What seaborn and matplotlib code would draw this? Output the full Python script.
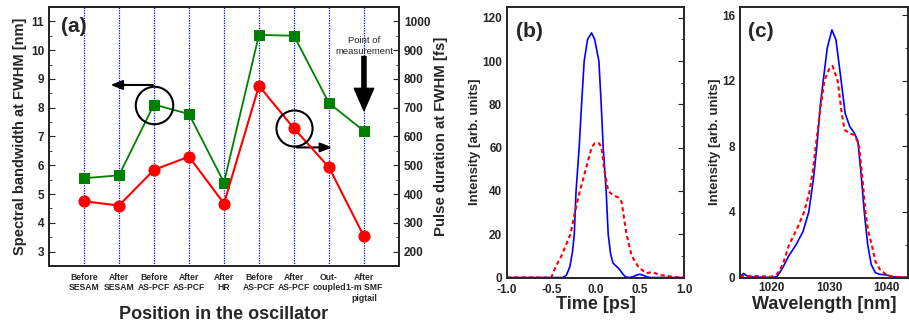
import numpy as np
import pandas as pd
import seaborn as sns
import matplotlib.pyplot as plt
from matplotlib.ticker import MultipleLocator

# Panel (a) data
positions = ["Before\nSESAM", "After\nSESAM", "Before\nAS-PCF", "After\nAS-PCF", "After\nHR",
             "Before\nAS-PCF", "After\nAS-PCF", "Out-\ncoupled", "After\n1-m SMF\npigtail"]
bandwidth_nm = [5.55, 5.65, 8.11, 7.78, 5.40, 10.53, 10.50, 8.16, 7.19]
duration_fs = [375, 360, 484, 530, 367, 776, 628, 493, 253]

# Panel (b) data: pulse intensity vs time
time_blue = [-1.0, -0.6, -0.37, -0.33, -0.29, -0.26, -0.24, -0.22, -0.185, -0.158, -0.128, -0.09,
             -0.045, -0.01, 0.038, 0.064, 0.087, 0.12, 0.143, 0.17, 0.197, 0.24, 0.275, 0.31,
             0.34, 0.38, 0.43, 0.47, 0.50, 0.54, 0.58, 0.62, 1.0]
int_blue = [0, 0, 0, 1, 5, 12, 20, 40, 60, 80, 100, 110,
            113, 110, 100, 80, 60, 40, 20, 11, 6.7, 5, 3.6, 1.5,
            0.3, 0, 0.5, 1.2, 1.5, 1.0, 0.3, 0, 0]
time_red = [-1.0, -0.5, -0.45, -0.385, -0.283, -0.234, -0.177, -0.11, -0.045, -0.01, 0.04,
            0.068, 0.098, 0.143, 0.2, 0.257, 0.294, 0.35, 0.408, 0.483, 0.54, 0.577, 0.634,
            0.672, 0.728, 0.785, 0.84, 0.955, 1.0]
int_red = [0, 0, 5, 10, 20, 30, 40, 50, 60, 62, 62,
           60, 50, 40, 38, 37, 35, 20, 10, 5, 3, 2, 2.5,
           2, 1, 1, 0.5, 0, 0]

# Panel (c) data: spectra
wl_blue = [1014.6, 1015.2, 1016, 1018, 1020, 1021, 1022, 1023, 1024.3, 1025.5, 1026.5, 1027.3,
           1027.9, 1028.5, 1029.0, 1029.7, 1030.5, 1031.2, 1032.1, 1032.8, 1033.6, 1034.4,
           1035.0, 1035.5, 1036.1, 1036.7, 1037.3, 1038.0, 1038.7, 1040, 1041, 1043.7]
spec_blue = [0.05, 0.25, 0.05, 0.02, 0.0, 0.05, 0.6, 1.3, 2.0, 2.8, 4.0, 6.0,
             8.0, 10.5, 12.0, 14.0, 15.1, 14.5, 12.0, 10.0, 9.2, 8.8,
             8.3, 6.5, 4.0, 2.0, 0.8, 0.3, 0.2, 0.15, 0.05, 0.0]
wl_red = [1014.6, 1017, 1020, 1021, 1022, 1023.1, 1024.5, 1025.7, 1026.6, 1027.2, 1027.7,
          1028.5, 1029.2, 1030.0, 1030.6, 1031.5, 1032.2, 1032.7, 1033.5, 1034.3, 1034.8,
          1035.2, 1035.8, 1036.3, 1036.8, 1037.4, 1038.0, 1038.8, 1039.8, 1041, 1043.7]
spec_red = [0.1, 0.1, 0.05, 0.2, 0.8, 2.0, 3.0, 4.0, 5.2, 6.5, 8.0,
            10.3, 12.0, 12.7, 12.9, 12.0, 10.0, 9.0, 8.8, 8.7, 8.4,
            8.0, 6.0, 4.0, 2.8, 2.0, 1.0, 0.5, 0.2, 0.05, 0]

sns.set_style("white")
plt.rcParams["font.family"] = ["Liberation Sans", "DejaVu Sans"]
plt.rcParams["font.weight"] = "bold"
plt.rcParams["axes.linewidth"] = 1.4

GREEN = "#008000"
RED = "#ff0000"
BLUE = "#0000ff"

fig = plt.figure(figsize=(9.09, 3.21), dpi=100)

# (a) bandwidth and pulse duration
ax = fig.add_axes([0.0539, 0.1713, 0.385, 0.807])
x = np.arange(1, len(positions) + 1)
for xi in x:
    ax.axvline(xi, color=BLUE, ls=(0, (1, 1)), lw=0.9, zorder=0)

sns.lineplot(x=x, y=bandwidth_nm, ax=ax, color=GREEN, lw=1.3, marker="s",
             markersize=7, markeredgecolor=GREEN, zorder=3)
ax.set_xlim(0, 10)
ax.set_ylim(2.5, 11.5)
ax.yaxis.set_major_locator(MultipleLocator(1))
ax.yaxis.set_minor_locator(MultipleLocator(0.5))
ax.set_xticks(x)
ax.set_xticklabels(positions, fontsize=6.2, fontweight="bold", linespacing=1.2)
ax.tick_params(axis="x", length=0, pad=5)
ax.tick_params(axis="y", which="both", direction="in", labelsize=8.5)
ax.tick_params(axis="y", which="major", length=4)
ax.tick_params(axis="y", which="minor", length=2)
ax.set_xlabel("Position in the oscillator", fontsize=13, fontweight="bold", labelpad=2)
ax.set_ylabel("Spectral bandwidth at FWHM [nm]", fontsize=10.5, fontweight="bold", labelpad=3)

ax2 = ax.twinx()
sns.lineplot(x=x, y=duration_fs, ax=ax2, color=RED, lw=1.5, marker="o",
             markersize=8, markeredgecolor=RED, zorder=3)
ax2.set_ylim(150, 1050)
ax2.yaxis.set_major_locator(MultipleLocator(100))
ax2.yaxis.set_minor_locator(MultipleLocator(50))
ax2.tick_params(axis="y", which="both", direction="in", labelsize=8.5)
ax2.tick_params(axis="y", which="major", length=4)
ax2.tick_params(axis="y", which="minor", length=2)
ax2.set_ylabel("Pulse duration at FWHM [fs]", fontsize=10.8, fontweight="bold", labelpad=3)

ax.text(0.035, 0.96, "(a)", transform=ax.transAxes, fontsize=15, fontweight="bold",
        va="top", ha="left")

# circles and arrows
ax.plot(3, bandwidth_nm[2], "o", mfc="none", mec="k", ms=27, mew=1.5, zorder=4)
ax.annotate("", xy=(1.68, 8.79), xytext=(3.05, 8.79),
            arrowprops=dict(arrowstyle="-|>,head_length=0.7,head_width=0.28", color="k", lw=1.5))
ax2.plot(7, duration_fs[6], "o", mfc="none", mec="k", ms=26, mew=1.5, zorder=4)
ax.annotate("", xy=(8.17, 6.62), xytext=(7.0, 6.62),
            arrowprops=dict(arrowstyle="-|>,head_length=0.7,head_width=0.28", color="k", lw=1.5))

ax.text(9, 10.15, "Point of\nmeasurement", ha="center", va="center", fontsize=6.8,
        fontweight="medium", linespacing=1.3)
ax.annotate("", xy=(9, 7.9), xytext=(9, 9.78),
            arrowprops=dict(width=3, headwidth=14, headlength=16, color="k"))

# (b) time domain
axb = fig.add_axes([0.5578, 0.1355, 0.1947, 0.843])
sns.lineplot(x=time_blue, y=int_blue, ax=axb, color=BLUE, lw=1.2, sort=False)
sns.lineplot(x=time_red, y=int_red, ax=axb, color=RED, lw=1.5, ls=(0, (2, 1.5)), sort=False)
axb.set_xlim(-1, 1)
axb.set_ylim(0, 125)
axb.xaxis.set_minor_locator(MultipleLocator(0.25))
axb.yaxis.set_major_locator(MultipleLocator(20))
axb.yaxis.set_minor_locator(MultipleLocator(10))
axb.tick_params(which="both", direction="in", labelsize=8.5, right=True)
axb.tick_params(which="major", length=4)
axb.tick_params(which="minor", length=2)
axb.tick_params(axis="x", pad=4.5)
axb.set_xticks([-1, -0.5, 0, 0.5, 1])
axb.set_xticklabels(["-1.0", "-0.5", "0.0", "0.5", "1.0"])
axb.set_xlabel("Time [ps]", fontsize=13, fontweight="bold", labelpad=0)
axb.set_ylabel("Intensity [arb. units]", fontsize=9.5, fontweight="bold", labelpad=1)
axb.text(0.05, 0.945, "(b)", transform=axb.transAxes, fontsize=15, fontweight="bold",
         va="top", ha="left")

# (c) spectra
axc = fig.add_axes([0.8141, 0.1355, 0.185, 0.843])
sns.lineplot(x=wl_blue, y=spec_blue, ax=axc, color=BLUE, lw=1.2, sort=False)
sns.lineplot(x=wl_red, y=spec_red, ax=axc, color=RED, lw=1.5, ls=(0, (2, 1.5)), sort=False)
axc.set_xlim(1014.6, 1043.7)
axc.set_ylim(0, 16.5)
axc.xaxis.set_major_locator(MultipleLocator(10))
axc.xaxis.set_minor_locator(MultipleLocator(5))
axc.yaxis.set_major_locator(MultipleLocator(4))
axc.yaxis.set_minor_locator(MultipleLocator(2))
axc.tick_params(which="both", direction="in", labelsize=8.5, right=True)
axc.tick_params(which="major", length=4)
axc.tick_params(which="minor", length=2)
axc.set_xlabel("Wavelength [nm]", fontsize=13, fontweight="bold", labelpad=1)
axc.set_ylabel("Intensity [arb. units]", fontsize=9.5, fontweight="bold", labelpad=1)
axc.text(0.05, 0.945, "(c)", transform=axc.transAxes, fontsize=15, fontweight="bold",
         va="top", ha="left")

fig.savefig("out.png", dpi=100)
